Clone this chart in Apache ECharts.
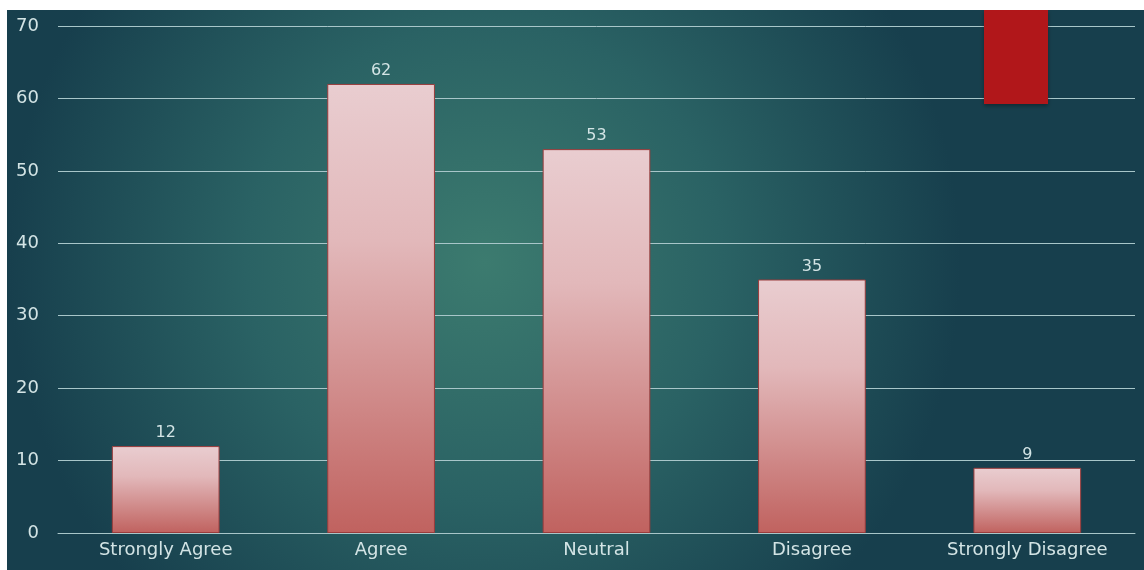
<!DOCTYPE html>
<html>
<head>
<meta charset="utf-8">
<script src="https://cdn.jsdelivr.net/npm/echarts@6/dist/echarts.min.js"></script>
<style>
  html, body { margin: 0; padding: 0; background: #ffffff; }
  #chart { position: absolute; left: 7px; top: 10px; width: 1137px; height: 560px; }
</style>
</head>
<body>
<div id="chart"></div>
<script>
// Survey responses per answer
const categories = ['Strongly Agree', 'Agree', 'Neutral', 'Disagree', 'Strongly Disagree'];
const responses = [12, 62, 53, 35, 9];
const yTicks = { min: 0, max: 70, interval: 10 };

const textColor = '#d3e4e5';
const fontFamily = '"DejaVu Sans", sans-serif';

const chart = echarts.init(document.getElementById('chart'));
chart.setOption({
  backgroundColor: {
    type: 'radial', x: 0.42, y: 0.45, r: 0.85,
    colorStops: [
      { offset: 0, color: '#3c7b6f' },
      { offset: 0.5, color: '#2a6264' },
      { offset: 1, color: '#173f4d' }
    ]
  },
  grid: { left: 51, right: 9, top: 16, bottom: 37 },
  xAxis: {
    type: 'category',
    data: categories,
    axisLine: { show: true, lineStyle: { color: '#a8c6c9', width: 1 } },
    axisTick: { show: false },
    axisLabel: { color: textColor, fontSize: 18, fontFamily, margin: 8 }
  },
  yAxis: {
    type: 'value',
    min: yTicks.min, max: yTicks.max, interval: yTicks.interval,
    axisLine: { show: false },
    axisTick: { show: false },
    splitLine: { lineStyle: { color: '#a8c6c9', width: 1 } },
    axisLabel: { color: textColor, fontSize: 18, fontFamily, margin: 19 }
  },
  series: [{
    type: 'bar',
    data: responses,
    barWidth: '50%',
    itemStyle: {
      color: {
        type: 'linear', x: 0, y: 0, x2: 0, y2: 1,
        colorStops: [
          { offset: 0, color: '#e9cdd0' },
          { offset: 0.35, color: '#e2b8ba' },
          { offset: 1, color: '#c0625f' }
        ]
      },
      borderColor: '#9a3c3c',
      borderWidth: 1
    },
    label: {
      show: true, position: 'top', distance: 5,
      color: textColor, fontSize: 16, fontFamily
    }
  }],
  graphic: [{
    type: 'rect',
    shape: { x: 977, y: 0, width: 64, height: 94 },
    style: {
      fill: '#b1171a',
      shadowBlur: 4, shadowColor: 'rgba(0,0,0,0.35)', shadowOffsetY: 2
    },
    z: 10
  }]
});
</script>
</body>
</html>
